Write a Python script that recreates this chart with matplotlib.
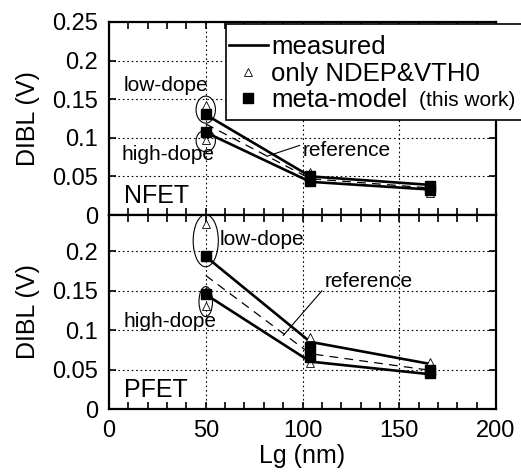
import matplotlib.pyplot as plt
from matplotlib.patches import Ellipse, Rectangle
from matplotlib.lines import Line2D
from matplotlib.ticker import MultipleLocator

plt.rcParams['font.family'] = ['Liberation Sans', 'DejaVu Sans']

lg = [50, 104, 166]

# NFET
n_meas_lo = [0.130, 0.050, 0.039]
n_meas_hi = [0.107, 0.043, 0.033]
n_meta_lo = [0.131, 0.050, 0.037]
n_meta_hi = [0.108, 0.044, 0.033]
n_ref = [0.118, 0.047, 0.035]
n_tri_x = [50, 50, 104, 104, 166, 166]
n_tri_y = [0.142, 0.097, 0.056, 0.045, 0.037, 0.029]

# PFET
p_meas_lo = [0.193, 0.085, 0.057]
p_meas_hi = [0.145, 0.060, 0.044]
p_meta_lo = [0.194, 0.078, 0.050]
p_meta_hi = [0.145, 0.066, 0.046]
p_ref = [0.169, 0.070, 0.049]
p_tri_x = [50, 50, 50, 104, 104, 166, 166]
p_tri_y = [0.234, 0.150, 0.131, 0.091, 0.058, 0.059, 0.044]

W, H = 521, 472
fig = plt.figure(figsize=(W / 100, H / 100), dpi=100)
left, right = 109 / W, 496 / W
ax1 = fig.add_axes([left, 1 - 215 / H, right - left, 193 / H])
ax2 = fig.add_axes([left, 1 - 409 / H, right - left, 194 / H])

def panel(ax, meas_lo, meas_hi, meta_lo, meta_hi, ref, tri_x, tri_y, ymax):
    ax.plot(lg, meas_lo, '-', color='black', lw=1.9, zorder=4)
    ax.plot(lg, meas_hi, '-', color='black', lw=1.9, zorder=4)
    ax.plot(lg, ref, '--', color='black', lw=0.9, dashes=(7, 5), zorder=3)
    ax.plot(lg, meta_lo, 's', color='black', ms=6.5, ls='none', zorder=5)
    ax.plot(lg, meta_hi, 's', color='black', ms=6.5, ls='none', zorder=5)
    ax.plot(tri_x, tri_y, '^', mfc='white', mec='black', mew=0.6, ms=5.5,
            ls='none', zorder=4.5)
    ax.set_xlim(0, 200)
    ax.set_ylim(0, ymax)
    ax.xaxis.set_major_locator(MultipleLocator(50))
    ax.xaxis.set_minor_locator(MultipleLocator(10))
    ax.yaxis.set_major_locator(MultipleLocator(0.05))
    ax.grid(True, which='major', color='black', ls=(0, (1.5, 2.5)), lw=0.8)
    ax.tick_params(which='both', direction='in', top=True, right=True,
                   length=5, width=1.2, labelsize=17, pad=8)
    for s in ax.spines.values():
        s.set_linewidth(1.6)
    ax.set_ylabel('DIBL (V)', fontsize=18, labelpad=9)
    ax.yaxis.set_major_formatter(plt.FuncFormatter(lambda v, p: '%g' % round(v, 3)))

panel(ax1, n_meas_lo, n_meas_hi, n_meta_lo, n_meta_hi, n_ref, n_tri_x, n_tri_y, 0.25)
panel(ax2, p_meas_lo, p_meas_hi, p_meta_lo, p_meta_hi, p_ref, p_tri_x, p_tri_y, 0.2456)

ax1.tick_params(labelbottom=False)
ax1.set_yticks([0, 0.05, 0.1, 0.15, 0.2, 0.25])
ax2.set_yticks([0, 0.05, 0.1, 0.15, 0.2])
ax2.set_xlabel('Lg (nm)', fontsize=18, labelpad=1)

# ellipses
ax1.add_patch(Ellipse((50, 0.1365), 10, 0.035, fill=False, lw=0.8, zorder=6))
ax1.add_patch(Ellipse((50, 0.096), 10, 0.028, fill=False, lw=0.8, zorder=6))
ax2.add_patch(Ellipse((50, 0.213), 13, 0.066, fill=False, lw=0.8, zorder=6))
ax2.add_patch(Ellipse((50, 0.136), 7, 0.038, fill=False, lw=0.8, zorder=6))

# annotations
ax1.text(7.5, 0.168, 'low-dope', fontsize=15, va='center')
ax1.text(6.5, 0.078, 'high-dope', fontsize=15, va='center')
ax1.text(7.8, 0.024, 'NFET', fontsize=18, va='center')
ax1.annotate('reference', xy=(81.5, 0.076), xytext=(100, 0.084),
             fontsize=15, va='center',
             arrowprops=dict(arrowstyle='-', lw=0.8, color='black',
                             shrinkA=0, shrinkB=0, relpos=(0, 0.8)))
ax2.text(57, 0.215, 'low-dope', fontsize=15, va='center')
ax2.text(7.5, 0.111, 'high-dope', fontsize=15, va='center')
ax2.text(7.8, 0.024, 'PFET', fontsize=18, va='center')
ax2.annotate('reference', xy=(90, 0.093), xytext=(111.5, 0.161),
             fontsize=15, va='center',
             arrowprops=dict(arrowstyle='-', lw=0.8, color='black',
                             shrinkA=0, shrinkB=0, relpos=(0, 0.2)))

# legend
fig.patches.append(Rectangle((226 / W, 1 - 120 / H), 300 / W, 96 / H,
                             transform=fig.transFigure, fc='white', ec='black',
                             lw=1.2, zorder=4))
handles = [Line2D([], [], color='black', lw=1.9),
           Line2D([], [], marker='^', ls='none', mfc='white', mec='black',
                  mew=0.6, ms=5.5),
           Line2D([], [], marker='s', ls='none', color='black', ms=6.5)]
fig.legend(handles, ['measured', 'only NDEP&VTH0', 'meta-model'],
           loc='upper left', bbox_to_anchor=(229 / W, 1 - 35 / H),
           frameon=False, fontsize=18.5, handlelength=1.5, handletextpad=0.15,
           labelspacing=0.1, borderpad=0.0, borderaxespad=0.0)
fig.text(419 / W, 1 - 101 / H, '(this work)', fontsize=15, va='center', zorder=6)

fig.savefig('out.png', dpi=100)
